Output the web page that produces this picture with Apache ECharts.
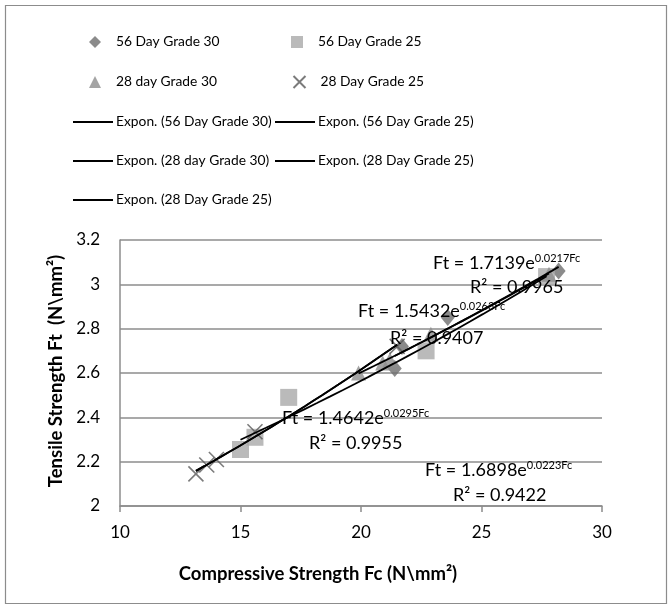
<!DOCTYPE html>
<html>
<head>
<meta charset="utf-8">
<script src="https://cdn.jsdelivr.net/npm/echarts@6/dist/echarts.min.js"></script>
<style>
  html, body { margin: 0; padding: 0; background: #fff; }
  #chart { width: 672px; height: 609px; }
</style>
</head>
<body>
<div id="chart"></div>
<script>
// Compressive strength Fc and tensile strength Ft (N/mm²) per mix and curing age
const fc56g30 = [21.4, 21.7, 23.6, 28.2];
const ft56g30 = [2.62, 2.72, 2.85, 3.06];
const fc56g25 = [15.0, 15.6, 17.0, 22.7, 27.7];
const ft56g25 = [2.255, 2.31, 2.49, 2.70, 3.035];
const fc28g30 = [19.9, 20.9, 21.2, 22.9, 27.8];
const ft28g30 = [2.60, 2.645, 2.66, 2.775, 3.045];
const fc28g25 = [13.15, 13.6, 14.0, 15.6, 21.5];
const ft28g25 = [2.145, 2.185, 2.21, 2.335, 2.72];

const xTicks = [10, 15, 20, 25, 30];
const yTicks = [2, 2.2, 2.4, 2.6, 2.8, 3, 3.2];

const markerNames = ['56 Day Grade 30', '56 Day Grade 25', '28 day Grade 30', '28 Day Grade 25'];
const trendNames = ['Expon. (56 Day Grade 30)', 'Expon. (56 Day Grade 25)',
                    'Expon. (28 day Grade 30)', 'Expon. (28 Day Grade 25)',
                    'Expon. (28 Day Grade 25)'];

// Trend-line equation labels
const eqCoef = ['1.7139', '1.5432', '1.4642', '1.6898'];
const eqRate = ['0.0217', '0.0263', '0.0295', '0.0223'];
const eqR2   = ['0.9965', '0.9407', '0.9955', '0.9422'];

const FONT = 'Lato, "Liberation Sans", sans-serif';
const CROSS = 'path://M0,0L10,10M10,0L0,10';

function pairs(xs, ys) { return xs.map((x, i) => [x, ys[i]]); }

// Least-squares exponential fit (ln Ft = a + b·Fc) over the series' own Fc range
function expTrend(xs, ys) {
  const n = xs.length;
  let sx = 0, sy = 0, sxx = 0, sxy = 0;
  for (let i = 0; i < n; i++) {
    const ly = Math.log(ys[i]);
    sx += xs[i]; sy += ly; sxx += xs[i] * xs[i]; sxy += xs[i] * ly;
  }
  const b = (n * sxy - sx * sy) / (n * sxx - sx * sx);
  const a = (sy - b * sx) / n;
  const lo = Math.min(...xs), hi = Math.max(...xs);
  const pts = [];
  for (let k = 0; k <= 24; k++) {
    const x = lo + (hi - lo) * k / 24;
    pts.push([x, Math.exp(a + b * x)]);
  }
  return pts;
}

const chart = echarts.init(document.getElementById('chart'), null, { renderer: 'canvas' });

const markerStyles = [
  { symbol: 'diamond',  size: [14, 17], itemStyle: { color: '#6e6e6e' } },
  { symbol: 'rect',     size: 17,       itemStyle: { color: '#a9a9a9' } },
  { symbol: 'triangle', size: [15, 15], itemStyle: { color: '#8d8d8d' } },
  { symbol: CROSS,      size: 15,       itemStyle: { color: 'none', borderColor: '#5a5a5a', borderWidth: 1.6 } }
];
const markerData = [pairs(fc56g30, ft56g30), pairs(fc56g25, ft56g25),
                    pairs(fc28g30, ft28g30), pairs(fc28g25, ft28g25)];
const trendData = [expTrend(fc56g30, ft56g30), expTrend(fc56g25, ft56g25),
                   expTrend(fc28g30, ft28g30), expTrend(fc28g25, ft28g25),
                   expTrend(fc28g25, ft28g25)];

const series = [];
markerNames.forEach((name, i) => {
  series.push({
    name, type: 'scatter', data: markerData[i],
    symbol: markerStyles[i].symbol, symbolSize: markerStyles[i].size,
    itemStyle: markerStyles[i].itemStyle, z: 2
  });
});
trendNames.forEach((name, i) => {
  series.push({
    name, type: 'line', data: trendData[i], showSymbol: false, symbol: 'none',
    lineStyle: { color: '#000', width: 1.8 }, itemStyle: { color: '#000' }, z: 3
  });
});

// Legend: two columns, one component per entry
const legendSlots = [
  { name: markerNames[0], col: 0, row: 0 }, { name: markerNames[1], col: 1, row: 0 },
  { name: markerNames[2], col: 0, row: 1 }, { name: markerNames[3], col: 1, row: 1 },
  { name: trendNames[0], col: 0, row: 2 }, { name: trendNames[1], col: 1, row: 2 },
  { name: trendNames[2], col: 0, row: 3 }, { name: trendNames[3], col: 1, row: 3 },
  { name: trendNames[4], col: 0, row: 4 }
];
const rowY = [42, 82, 122, 161, 200];
const legend = legendSlots.map((s, idx) => {
  const isMarker = idx < 4;
  const base = {
    orient: 'horizontal', padding: 0, itemGap: 0,
    top: rowY[s.row] - 9,
    textStyle: { fontFamily: FONT, fontSize: 13.8, color: '#000', lineHeight: 18 },
    data: [{ name: s.name }]
  };
  if (isMarker) {
    base.left = s.col === 0 ? 89 : 291;
    base.itemWidth = 12; base.itemHeight = 12;
    base.textStyle.padding = [0, 0, 0, 10];
  } else {
    base.left = s.col === 0 ? 73 : 275;
    base.itemWidth = 40; base.itemHeight = 2;
    base.data = [{ name: s.name, icon: 'rect' }];
    base.textStyle.padding = [0, 0, 0, -2];
  }
  return base;
});

function eqText(left, top, coef, rate) {
  return {
    type: 'text', left, top,
    style: {
      text: '{m|Ft = ' + coef + 'e}{s|' + rate + 'Fc}',
      rich: {
        m: { fontFamily: FONT, fontSize: 18, color: '#000', lineHeight: 22 },
        s: { fontFamily: FONT, fontSize: 11, color: '#000', lineHeight: 22, padding: [0, 0, 10, 0] }
      }
    }, z: 10
  };
}
function r2Text(left, top, r2) {
  return {
    type: 'text', left, top,
    style: { text: 'R² = ' + r2, fontFamily: FONT, fontSize: 18, fill: '#000', lineHeight: 22 },
    z: 10
  };
}

const option = {
  animation: false,
  backgroundColor: '#fff',
  legend,
  grid: { left: 120, right: 70, top: 240, bottom: 103, containLabel: false },
  xAxis: {
    type: 'value', min: xTicks[0], max: xTicks[xTicks.length - 1], interval: xTicks[1] - xTicks[0],
    axisLine: { show: true, lineStyle: { color: '#8c8c8c', width: 1.5 } },
    axisTick: { show: true, length: 6, lineStyle: { color: '#8c8c8c', width: 1.5 } },
    splitLine: { show: false },
    axisLabel: { fontFamily: FONT, fontSize: 17, color: '#000', margin: 18 }
  },
  yAxis: {
    type: 'value', min: yTicks[0], max: yTicks[yTicks.length - 1], interval: 0.2,
    axisLine: { show: true, lineStyle: { color: '#8c8c8c', width: 1.5 } },
    axisTick: { show: false },
    splitLine: { show: true, lineStyle: { color: '#8c8c8c', width: 1.5 } },
    axisLabel: { fontFamily: FONT, fontSize: 17, color: '#000', margin: 20,
                 formatter: v => String(Math.round(v * 10) / 10) }
  },
  graphic: [
    { type: 'rect', shape: { x: 5.5, y: 5.5, width: 661, height: 598 },
      style: { fill: 'none', stroke: '#8c8c8c', lineWidth: 1.2 }, z: 0, silent: true },
    { type: 'text', x: 318, y: 574,
      style: { text: 'Compressive Strength Fc (N\\mm²)', fontFamily: FONT, fontSize: 18.5,
               fontWeight: 'bold', fill: '#000', align: 'center', verticalAlign: 'middle' } },
    { type: 'text', x: 56, y: 371, rotation: Math.PI / 2,
      style: { text: 'Tensile Strength Ft  (N\\mm²)', fontFamily: FONT, fontSize: 18.5,
               fontWeight: 'bold', fill: '#000', align: 'center', verticalAlign: 'middle' } },
    eqText(433, 253, eqCoef[0], eqRate[0]), r2Text(470, 276, eqR2[0]),
    eqText(358, 301, eqCoef[1], eqRate[1]), r2Text(390, 327, eqR2[1]),
    eqText(282, 408, eqCoef[2], eqRate[2]), r2Text(309, 432, eqR2[2]),
    eqText(425, 460, eqCoef[3], eqRate[3]), r2Text(453, 484, eqR2[3])
  ],
  series
};
chart.setOption(option);
</script>
</body>
</html>
